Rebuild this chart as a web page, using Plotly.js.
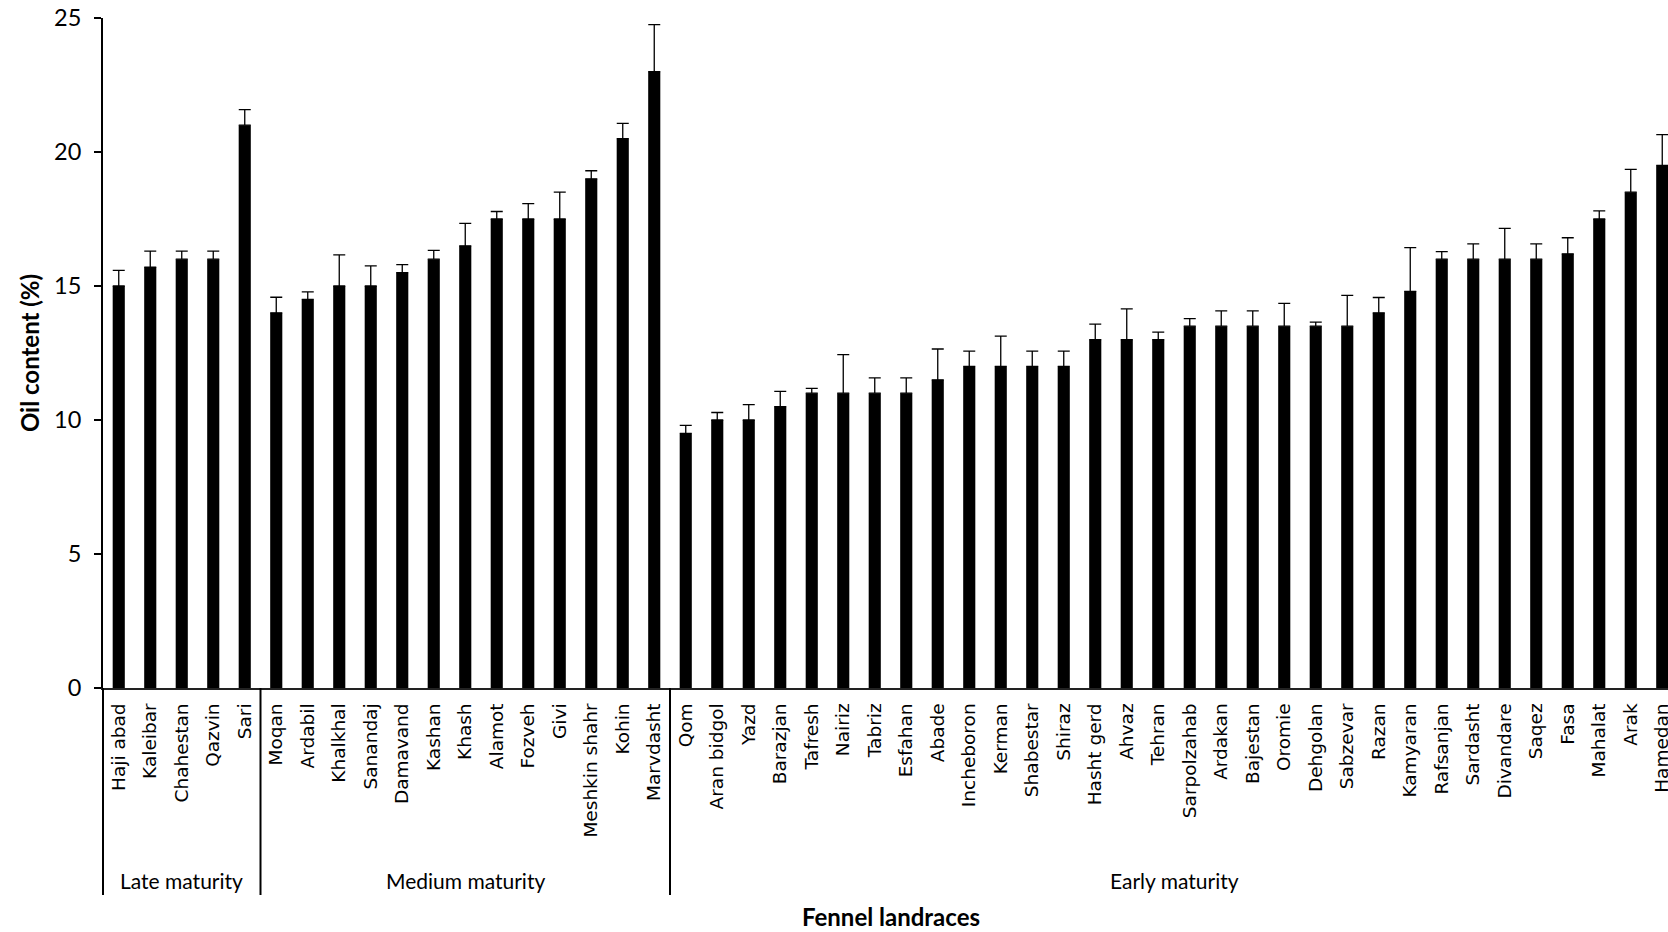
<!DOCTYPE html>
<html>
<head>
<meta charset="utf-8">
<script src="https://cdn.plot.ly/plotly-3.0.1.min.js"></script>
<style>
  html, body { margin: 0; padding: 0; background: #fff; }
  #chart { width: 1668px; height: 932px; }
</style>
</head>
<body>
<div id="chart"></div>
<script>
// ---- Data ----
const lateNames = ["Haji abad", "Kaleibar", "Chahestan", "Qazvin", "Sari"];
const lateValues = [15, 15.7, 16, 16, 21];
const lateErrors = [0.58, 0.6, 0.3, 0.3, 0.58];

const mediumNames = ["Moqan", "Ardabil", "Khalkhal", "Sanandaj", "Damavand", "Kashan", "Khash",
  "Alamot", "Fozveh", "Givi", "Meshkin shahr", "Kohin", "Marvdasht"];
const mediumValues = [14, 14.5, 15, 15, 15.5, 16, 16.5, 17.5, 17.5, 17.5, 19, 20.5, 23];
const mediumErrors = [0.58, 0.28, 1.16, 0.75, 0.3, 0.33, 0.84, 0.28, 0.57, 1.0, 0.3, 0.57, 1.75];

const earlyNames = ["Qom", "Aran bidgol", "Yazd", "Barazjan", "Tafresh", "Nairiz", "Tabriz", "Esfahan",
  "Abade", "Incheboron", "Kerman", "Shabestar", "Shiraz", "Hasht gerd", "Ahvaz", "Tehran",
  "Sarpolzahab", "Ardakan", "Bajestan", "Oromie", "Dehgolan", "Sabzevar", "Razan", "Kamyaran",
  "Rafsanjan", "Sardasht", "Divandare", "Saqez", "Fasa", "Mahalat", "Arak", "Hamedan"];
const earlyValues = [9.5, 10, 10, 10.5, 11, 11, 11, 11, 11.5, 12, 12, 12, 12, 13, 13, 13,
  13.5, 13.5, 13.5, 13.5, 13.5, 13.5, 14, 14.8, 16, 16, 16, 16, 16.2, 17.5, 18.5, 19.5];
const earlyErrors = [0.3, 0.28, 0.57, 0.57, 0.18, 1.44, 0.57, 0.57, 1.15, 0.57, 1.13, 0.57, 0.57, 0.58, 1.15, 0.28,
  0.28, 0.57, 0.57, 0.85, 0.15, 1.15, 0.57, 1.63, 0.28, 0.57, 1.15, 0.57, 0.6, 0.3, 0.85, 1.15];

const groupLabels = ["Late maturity", "Medium maturity", "Early maturity"];
const xTitle = "Fennel landraces";
const yTitle = "Oil content (%)";

// ---- Build ----
const groups = [
  {label: groupLabels[0], names: lateNames},
  {label: groupLabels[1], names: mediumNames},
  {label: groupLabels[2], names: earlyNames}
];
const categories = [].concat(lateNames, mediumNames, earlyNames);
const values = [].concat(lateValues, mediumValues, earlyValues);
const errors = [].concat(lateErrors, mediumErrors, earlyErrors);

const trace = {
  type: 'bar',
  x: categories,
  y: values,
  marker: {color: '#000000', line: {width: 0}},
  error_y: {
    type: 'data', symmetric: false, array: errors,
    arrayminus: errors.map(() => 0),
    color: '#000000', thickness: 1.3, width: 6
  },
  hoverinfo: 'x+y'
};

const shapes = [];
const annotations = [];
let start = 0;
const sepBottom = -0.309;
groups.forEach((g, gi) => {
  const end = start + g.names.length;
  shapes.push({
    type: 'line', xref: gi === 0 ? 'paper' : 'x', yref: 'paper',
    x0: gi === 0 ? 0 : start - 0.5, x1: gi === 0 ? 0 : start - 0.5,
    y0: 0, y1: sepBottom,
    line: {color: '#000000', width: 2}
  });
  annotations.push({
    xref: 'x', yref: 'paper',
    x: (start + end - 1) / 2, y: -0.287,
    text: g.label, showarrow: false,
    xanchor: 'center', yanchor: 'middle',
    font: {family: 'Lato, sans-serif', size: 21, color: '#000'}
  });
  start = end;
});
annotations.push({
  xref: 'x', yref: 'paper',
  x: (categories.length - 1) / 2, y: -0.341,
  text: '<b>' + xTitle + '</b>', showarrow: false,
  xanchor: 'center', yanchor: 'middle',
  font: {family: 'Lato, sans-serif', size: 24, color: '#000'}
});

const plotW = 1668 - 103;
const catW = 31.5;

const layout = {
  width: 1668, height: 932,
  margin: {l: 103, r: 0, t: 18, b: 244, pad: 0},
  paper_bgcolor: '#ffffff', plot_bgcolor: '#ffffff',
  showlegend: false,
  bargap: 0.615,
  xaxis: {
    type: 'category',
    range: [-0.5, -0.5 + plotW / catW],
    showline: true, linecolor: '#222', linewidth: 2,
    showgrid: false, zeroline: false,
    ticks: '', tickangle: -90,
    tickfont: {family: 'DejaVu Sans, sans-serif', size: 18.5, color: '#000'},
    ticklabelstandoff: 6,
    automargin: false
  },
  yaxis: {
    range: [0, 25], dtick: 5, tick0: 0,
    showline: true, linecolor: '#000', linewidth: 2,
    showgrid: false, zeroline: false,
    ticks: 'outside', ticklen: 7, tickwidth: 2, tickcolor: '#000',
    tickfont: {family: 'Lato, sans-serif', size: 23.5, color: '#000'},
    ticklabelstandoff: 8,
    title: {text: '<b>' + yTitle + '</b>', font: {family: 'Lato, sans-serif', size: 24, color: '#000'}, standoff: 8},
    automargin: false
  },
  shapes: shapes,
  annotations: annotations
};

Plotly.newPlot('chart', [trace], layout, {displayModeBar: false, staticPlot: true});
</script>
</body>
</html>
